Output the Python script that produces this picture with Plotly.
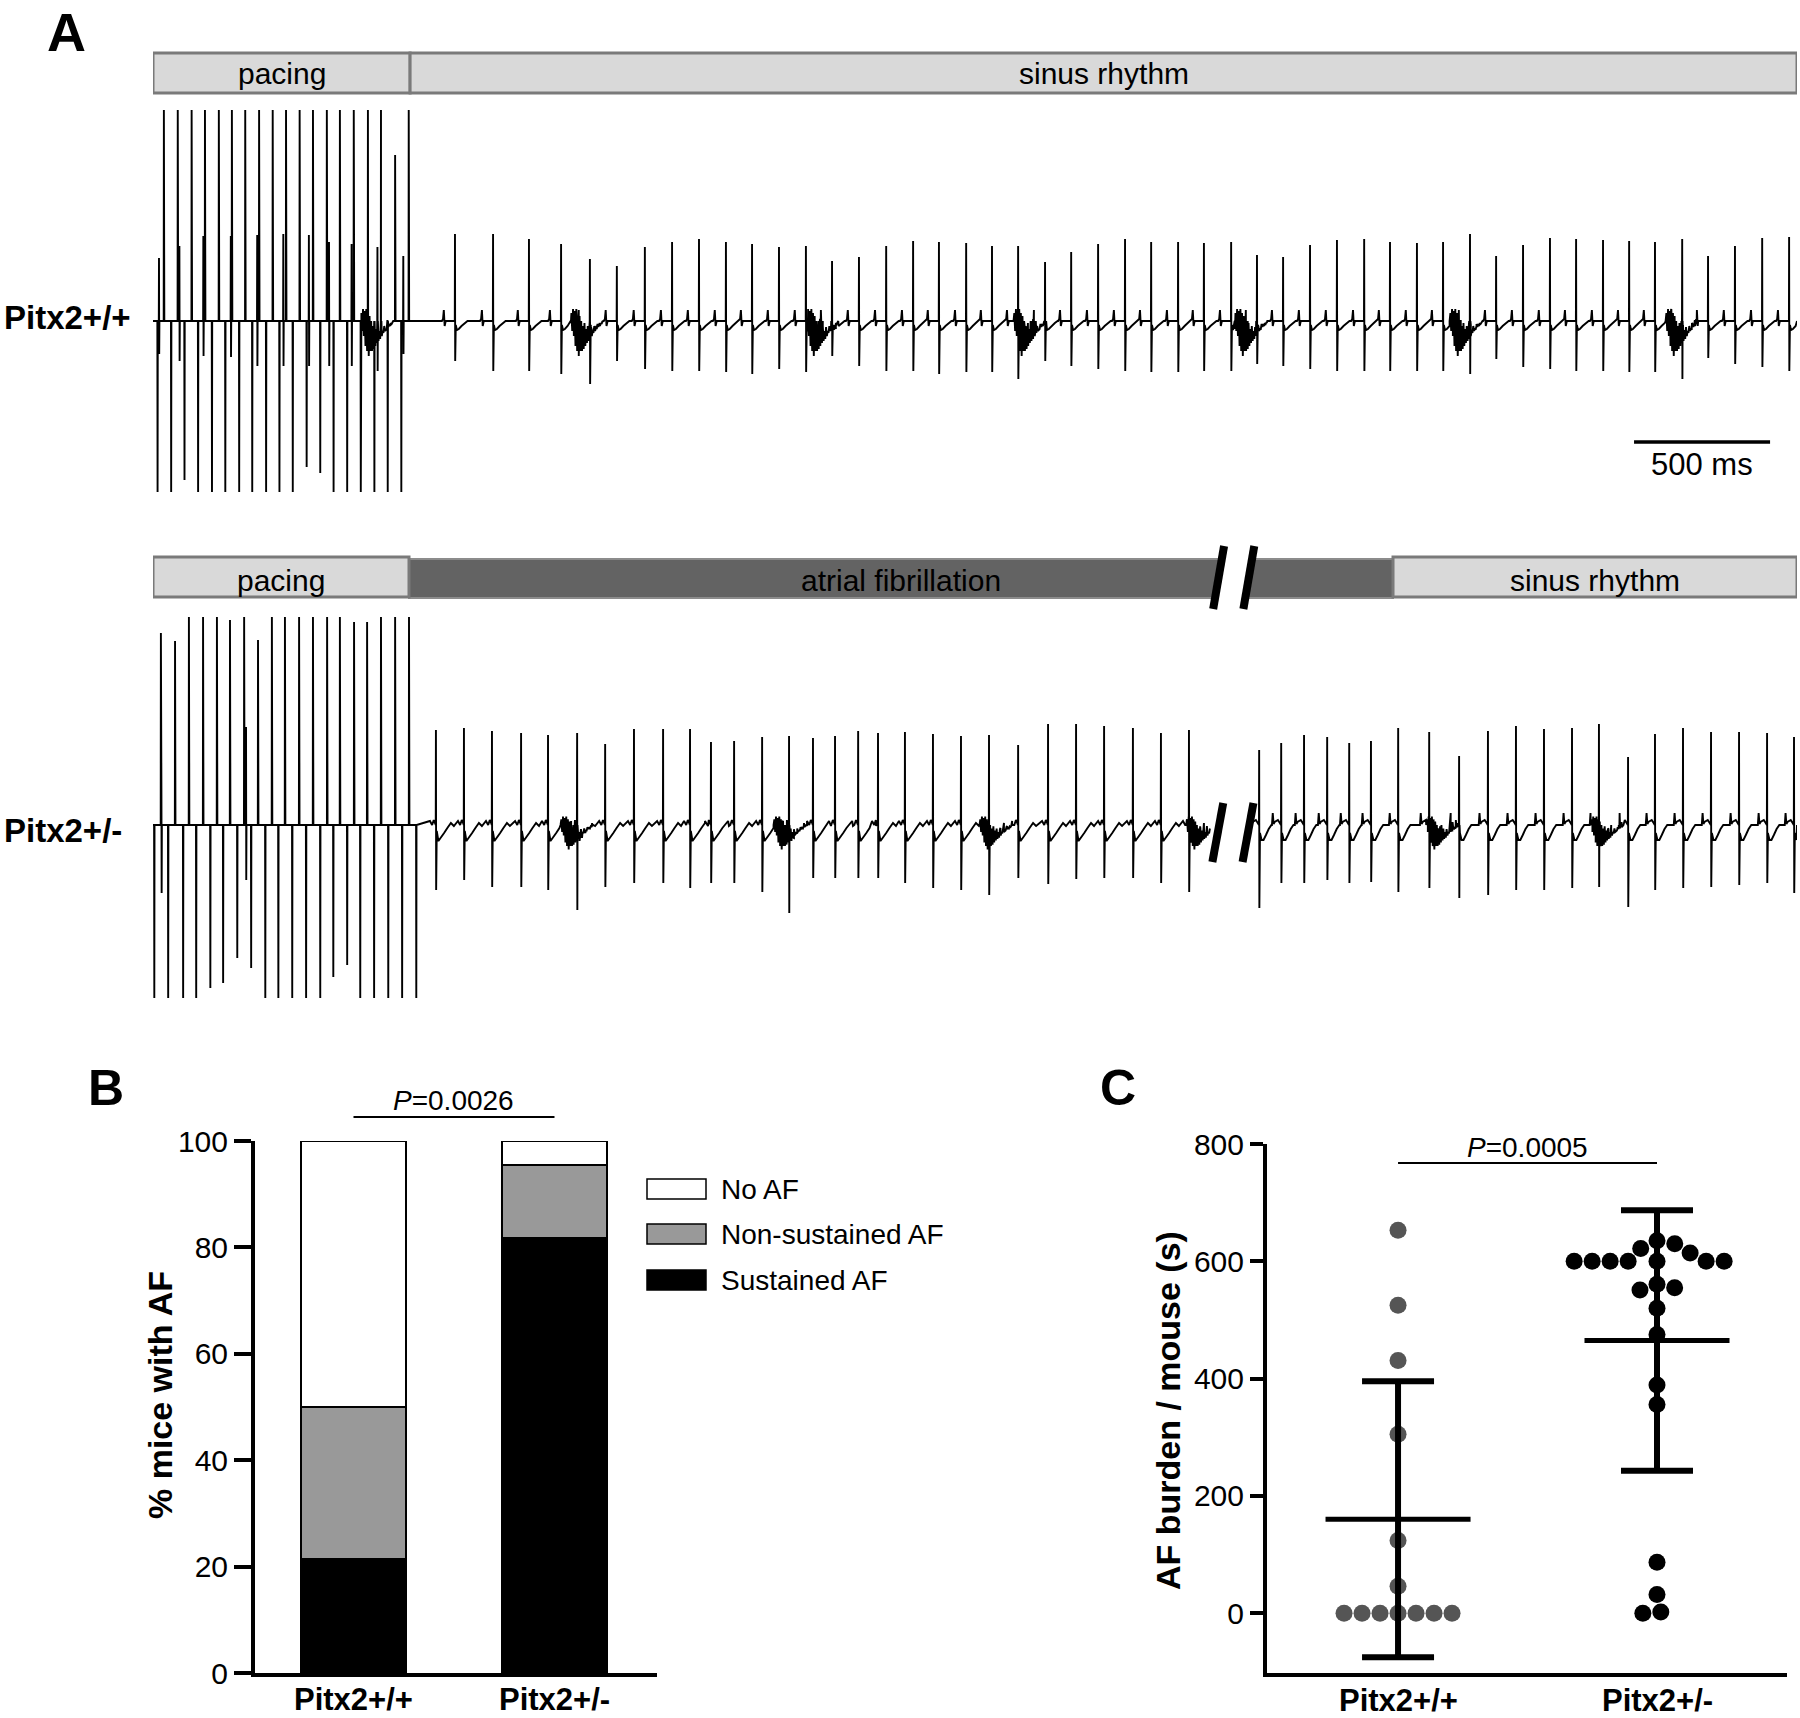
import plotly.graph_objects as go

W, H = 1800, 1718
FONT = "Liberation Sans, Arial, Helvetica, sans-serif"

# ====================== DATA ======================
# ---- Panel A: ECG recordings (time in ms, amplitude in arbitrary units) ----
RECORD_END_MS = 6043
SCALE_BAR_MS = 500
SCALE_BAR_START_MS = 5444

TOP_SEGMENT_NAMES = ["pacing", "sinus rhythm"]
TOP_SEGMENT_START_MS = [0, 945]
TOP_SEGMENT_END_MS = [945, 6043]

BOT_SEGMENT_NAMES = ["pacing", "atrial fibrillation", "sinus rhythm"]
BOT_SEGMENT_START_MS = [0, 941, 4558]
BOT_SEGMENT_END_MS = [941, 4558, 6043]

BREAK_START_MS = 3897
BREAK_END_MS = 4048

# Pitx2+/+ recording
WT_PACE_UP_MS = [40, 91, 142, 191, 242, 290, 339, 390, 440, 489, 539, 588, 639, 687, 738, 790, 838, 890, 940]
WT_PACE_UP_AMP = [2.11, 2.11, 2.11, 2.11, 2.11, 2.11, 2.11, 2.11, 2.11, 2.11, 2.11, 2.11, 2.11, 2.11, 2.11, 2.11, 2.11, 1.66, 2.11]
WT_PACE_DOWN_MS = [16, 66, 115, 165, 216, 265, 316, 364, 415, 464, 513, 564, 614, 663, 713, 763, 813, 862, 912]
WT_PACE_DOWN_AMP = [1.71, 1.71, 1.59, 1.71, 1.71, 1.71, 1.71, 1.71, 1.71, 1.71, 1.71, 1.46, 1.52, 1.71, 1.71, 1.71, 1.71, 1.71, 1.71]
WT_CAPTURE_MS = [22, 97, 185, 286, 383, 479, 573, 647, 730, 825, 920]
WT_CAPTURE_UP = [0.63, 0.75, 0.85, 0.85, 0.86, 0.87, 0.86, 0.79, 0.77, 0.74, 0.65]
WT_CAPTURE_DOWN = [0.33, 0.40, 0.35, 0.36, 0.45, 0.45, 0.45, 0.45, 0.45, 0.50, 0.33]
WT_BEAT_MS = [1110, 1250, 1382, 1500, 1606, 1705, 1808, 1908, 2007, 2106, 2202, 2301, 2400, 2496, 2595,
              2695, 2794, 2889, 2989, 3084, 3180, 3279, 3375, 3474, 3573, 3669, 3768, 3863, 3963, 4058,
              4154, 4253, 4352, 4452, 4547, 4646, 4742, 4841, 4937, 5036, 5135, 5231, 5330, 5426, 5521,
              5621, 5716, 5815, 5915, 6014]
WT_BEAT_UP = [0.87, 0.87, 0.82, 0.77, 0.62, 0.55, 0.74, 0.79, 0.82, 0.79, 0.77, 0.74, 0.75, 0.60, 0.64,
              0.75, 0.80, 0.79, 0.78, 0.75, 0.75, 0.59, 0.69, 0.77, 0.82, 0.79, 0.79, 0.78, 0.79, 0.66,
              0.64, 0.76, 0.81, 0.82, 0.79, 0.78, 0.79, 0.87, 0.65, 0.76, 0.83, 0.82, 0.81, 0.80, 0.79,
              0.82, 0.65, 0.75, 0.83, 0.84]
WT_BEAT_DOWN = [0.40, 0.50, 0.50, 0.53, 0.63, 0.40, 0.48, 0.50, 0.50, 0.51, 0.53, 0.48, 0.51, 0.35, 0.45,
                0.50, 0.50, 0.53, 0.51, 0.51, 0.58, 0.40, 0.45, 0.48, 0.50, 0.51, 0.51, 0.50, 0.50, 0.43,
                0.45, 0.48, 0.50, 0.50, 0.50, 0.50, 0.50, 0.53, 0.38, 0.46, 0.48, 0.50, 0.50, 0.51, 0.51,
                0.58, 0.37, 0.43, 0.46, 0.50]
WT_BURST_MS = [820, 1592, 2456, 3220, 4033, 4823, 5617]

# Pitx2+/- recording
HET_PACE_UP_MS = [29, 81, 132, 184, 235, 283, 335, 386, 437, 485, 537, 588, 640, 687, 739, 787, 838, 890, 941]
HET_PACE_UP_AMP = [1.92, 1.84, 2.08, 2.08, 2.08, 2.05, 2.08, 1.85, 2.08, 2.08, 2.08, 2.08, 2.08, 2.08, 2.03, 2.03, 2.08, 2.08, 2.08]
HET_PACE_DOWN_MS = [4, 55, 110, 158, 210, 257, 309, 360, 412, 460, 511, 562, 614, 662, 713, 761, 812, 864, 915, 967]
HET_PACE_DOWN_AMP = [1.73, 1.73, 1.73, 1.73, 1.63, 1.58, 1.33, 1.43, 1.73, 1.73, 1.73, 1.73, 1.73, 1.52, 1.40, 1.73, 1.73, 1.73, 1.73, 1.73]
HET_CAPTURE_MS = [31, 342]
HET_CAPTURE_UP = [0.30, 0.98]
HET_CAPTURE_DOWN = [0.68, 0.55]
HET_AF_BEAT_MS = [1040, 1143, 1246, 1353, 1452, 1559, 1662, 1768, 1875, 1974, 2051, 2136, 2239, 2338, 2426,
                  2507, 2592, 2665, 2764, 2867, 2970, 3073, 3180, 3290, 3393, 3496, 3602, 3705, 3808]
HET_AF_BEAT_UP = [0.95, 0.97, 0.94, 0.92, 0.90, 0.92, 0.81, 0.96, 0.96, 0.96, 0.83, 0.84, 0.88, 0.89, 0.87,
                  0.89, 0.94, 0.92, 0.93, 0.91, 0.89, 0.90, 0.80, 1.01, 1.01, 0.99, 0.97, 0.92, 0.95]
HET_AF_BEAT_DOWN = [0.65, 0.55, 0.62, 0.62, 0.65, 0.85, 0.62, 0.58, 0.58, 0.63, 0.58, 0.58, 0.67, 0.88, 0.53,
                    0.53, 0.53, 0.53, 0.58, 0.63, 0.65, 0.70, 0.53, 0.59, 0.54, 0.53, 0.53, 0.58, 0.67]
HET_SR_BEAT_MS = [4066, 4147, 4231, 4316, 4397, 4477, 4577, 4691, 4801, 4907, 5010, 5113, 5216, 5315, 5422,
                  5521, 5624, 5727, 5830, 5933, 6032]
HET_SR_BEAT_UP = [0.75, 0.82, 0.90, 0.88, 0.82, 0.84, 0.97, 0.93, 0.69, 0.94, 0.99, 0.96, 0.97, 1.01, 0.68,
                  0.91, 0.97, 0.93, 0.93, 0.92, 0.88]
HET_SR_BEAT_DOWN = [0.83, 0.58, 0.58, 0.55, 0.58, 0.57, 0.67, 0.63, 0.73, 0.70, 0.65, 0.65, 0.63, 0.62, 0.82,
                    0.65, 0.63, 0.62, 0.60, 0.58, 0.68]
HET_BURST_MS = [1555, 2338, 3095, 3855, 4737, 5342]

# ---- Panel B: % mice with AF ----
GENOTYPES = ["Pitx2+/+", "Pitx2+/-"]
SUSTAINED_AF = [21.4, 81.8]
NON_SUSTAINED_AF = [28.6, 13.6]
NO_AF = [50.0, 4.6]
P_VALUE_B = "0.0026"

# ---- Panel C: AF burden / mouse (s) ----
WT_BURDEN = [653, 525, 431, 305, 124, 46, 0, 0, 0, 0, 0, 0, 0]
HET_BURDEN = [635, 630, 622, 614, 600, 600, 600, 600, 600, 600, 600, 561, 555, 551, 520, 475, 389, 356, 87, 32, 2, 0]
P_VALUE_C = "0.0005"

# ====================== STYLE TEMPLATES ======================
# wave templates (offset ms, amplitude) drawn around each beat
WT_WAVE_DT = [-48, -44, -41, -38, -34, -3, 3, 7, 14, 24, 36, 46]
WT_WAVE_V = [0.0, 0.02, 0.11, -0.05, 0.0, 0.0, -0.04, -0.09, -0.08, -0.05, -0.02, 0.0]
AF_WAVE_DT = [-22, -14, -8, -3, 3, 9, 18, 30, 42, 55, 66]
AF_WAVE_V = [0.04, 0.0, 0.05, 0.02, -0.06, -0.16, -0.13, -0.08, -0.03, 0.02, -0.01]
SR_WAVE_DT = [-34, -31, -28, -24, -12, -5, 3, 9, 16, 25, 35, 45]
SR_WAVE_V = [0.0, 0.12, 0.01, 0.03, 0.05, 0.02, -0.08, -0.15, -0.15, -0.10, -0.04, 0.0]
BURST_DT = [-57, -54, -51, -48, -45, -42, -39, -36, -33, -30, -27, -24, -21, -18, -15, -12, -9, -6, -3, 0,
            3, 6, 9, 12, 15, 18, 21, 24, 27, 30, 33, 36, 39, 42, 45, 48, 51, 54, 57, 60, 63]
BURST_V = [0.0, 0.08, -0.10, 0.12, -0.15, 0.10, -0.25, 0.12, -0.30, 0.08, -0.35, 0.05, -0.30, 0.0, -0.30,
           -0.05, -0.28, -0.02, -0.25, -0.08, -0.22, -0.05, -0.20, -0.10, -0.18, -0.06, -0.15, -0.10, -0.12,
           -0.05, -0.10, -0.08, -0.08, -0.03, -0.06, -0.04, -0.05, -0.02, -0.03, -0.01, 0.0]


def py(px):
    return 1 - px / H


def pxx(px):
    return px / W


def spikes(times, ups, downs):
    pts = []
    for t, u, d in zip(times, ups, downs):
        pts += [(t - 0.7, 0.0), (t, u), (t + 0.8, -d), (t + 1.6, 0.0)]
    return pts


def waves(times, dts, vs, scale=1.0):
    pts = []
    for t in times:
        pts += [(t + dt, v * scale) for dt, v in zip(dts, vs)]
    return pts


def assemble(*lists):
    return sorted([p for lst in lists for p in lst], key=lambda p: p[0])


fig = go.Figure()

# --- Top trace (Pitx2+/+) ---
top_pts = assemble(
    [(0, 0.0), (RECORD_END_MS, 0.0)],
    spikes(WT_PACE_UP_MS, WT_PACE_UP_AMP, [0.0] * len(WT_PACE_UP_MS)),
    spikes(WT_PACE_DOWN_MS, [0.0] * len(WT_PACE_DOWN_MS), WT_PACE_DOWN_AMP),
    spikes(WT_CAPTURE_MS, WT_CAPTURE_UP, WT_CAPTURE_DOWN),
    spikes(WT_BEAT_MS, WT_BEAT_UP, WT_BEAT_DOWN),
    waves(WT_BEAT_MS, WT_WAVE_DT, WT_WAVE_V),
    waves(WT_BURST_MS, BURST_DT, BURST_V),
)
top_pts = [p for p in top_pts if 0 <= p[0] <= RECORD_END_MS]
fig.add_trace(go.Scatter(x=[p[0] for p in top_pts], y=[p[1] for p in top_pts], mode="lines",
                         line=dict(color="black", width=1.9), xaxis="x", yaxis="y", hoverinfo="skip"))

# --- Bottom trace (Pitx2+/-) ---
bot_pts = assemble(
    [(0, 0.0), (RECORD_END_MS, 0.0)],
    spikes(HET_PACE_UP_MS, HET_PACE_UP_AMP, [0.0] * len(HET_PACE_UP_MS)),
    spikes(HET_PACE_DOWN_MS, [0.0] * len(HET_PACE_DOWN_MS), HET_PACE_DOWN_AMP),
    spikes(HET_CAPTURE_MS, HET_CAPTURE_UP, HET_CAPTURE_DOWN),
    spikes(HET_AF_BEAT_MS, HET_AF_BEAT_UP, HET_AF_BEAT_DOWN),
    waves(HET_AF_BEAT_MS, AF_WAVE_DT, AF_WAVE_V),
    spikes(HET_SR_BEAT_MS, HET_SR_BEAT_UP, HET_SR_BEAT_DOWN),
    waves(HET_SR_BEAT_MS, SR_WAVE_DT, SR_WAVE_V),
    waves(HET_BURST_MS, BURST_DT, BURST_V, 0.7),
)
seg1 = [p for p in bot_pts if 0 <= p[0] <= BREAK_START_MS - 10]
seg2 = [p for p in bot_pts if BREAK_END_MS - 25 <= p[0] <= RECORD_END_MS]
bx = [p[0] for p in seg1] + [None] + [p[0] for p in seg2]
by = [p[1] for p in seg1] + [None] + [p[1] for p in seg2]
fig.add_trace(go.Scatter(x=bx, y=by, mode="lines", line=dict(color="black", width=1.9),
                         xaxis="x2", yaxis="y2", hoverinfo="skip", connectgaps=False))

# --- Panel B stacked bars ---
BAR_W = 0.527
for vals, col in [(SUSTAINED_AF, "black"), (NON_SUSTAINED_AF, "#999999"), (NO_AF, "white")]:
    fig.add_trace(go.Bar(x=[0, 1], y=vals, width=BAR_W, marker=dict(color=col, line=dict(color="black", width=2)),
                         xaxis="x3", yaxis="y3", hoverinfo="skip"))

# --- Panel C scatter ---
C_PX_PER_X = 259.0
C_PX_PER_Y = 529.0 / 902.0
DOT_D = 18.0


def swarm(values, center):
    placed, xs = [], []
    for v in values:
        y = v * C_PX_PER_Y
        cands = [0.0]
        for xo, yo in placed:
            dy = y - yo
            if abs(dy) < DOT_D:
                dx = (DOT_D ** 2 - dy ** 2) ** 0.5
                cands += [xo + dx, xo - dx]
        cands = sorted(set(cands), key=lambda c: (abs(c), -c))
        chosen = cands[-1]
        for c in cands:
            if all((c - xo) ** 2 + (y - yo) ** 2 >= DOT_D ** 2 - 1e-6 for xo, yo in placed):
                chosen = c
                break
        placed.append((chosen, y))
        xs.append(center + chosen / C_PX_PER_X)
    return xs


def mean_sd(vals):
    m = sum(vals) / len(vals)
    sd = (sum((v - m) ** 2 for v in vals) / (len(vals) - 1)) ** 0.5
    return m, sd


for gi, (vals, col) in enumerate([(WT_BURDEN, "#555555"), (HET_BURDEN, "black")]):
    fig.add_trace(go.Scatter(x=swarm(vals, gi), y=vals, mode="markers",
                             marker=dict(size=17, color=col, line=dict(width=0)),
                             xaxis="x4", yaxis="y4", hoverinfo="skip"))
for gi, vals in enumerate([WT_BURDEN, HET_BURDEN]):
    m, sd = mean_sd(vals)
    fig.add_trace(go.Scatter(x=[gi], y=[m], mode="markers", marker=dict(size=1, color="black"),
                             error_y=dict(type="data", array=[sd], visible=True, color="black",
                                          thickness=6, width=36),
                             xaxis="x4", yaxis="y4", hoverinfo="skip"))
    fig.add_trace(go.Scatter(x=[gi - 0.28, gi + 0.28], y=[m, m], mode="lines",
                             line=dict(color="black", width=5), xaxis="x4", yaxis="y4", hoverinfo="skip"))

# ====================== LAYOUT ======================
shapes, ann = [], []
TRACE_DOM = [pxx(153), pxx(1797)]
TOP_BASE, BOT_BASE = 321, 825
light, dark = "#d9d9d9", "#636363"

# top state bar
for s, e in zip(TOP_SEGMENT_START_MS, TOP_SEGMENT_END_MS):
    shapes.append(dict(type="rect", xref="x", yref="paper", x0=s, x1=e, y0=py(93), y1=py(53),
                       fillcolor=light, line=dict(color="#7a7a7a", width=3), layer="above"))
for name, s, e in zip(TOP_SEGMENT_NAMES, TOP_SEGMENT_START_MS, TOP_SEGMENT_END_MS):
    ann.append(dict(text=name, xref="x", yref="paper", x=(s + e) / 2, y=py(73), showarrow=False,
                    font=dict(size=30, color="black"), xanchor="center", yanchor="middle"))

# bottom state bar
for name, s, e in zip(BOT_SEGMENT_NAMES, BOT_SEGMENT_START_MS, BOT_SEGMENT_END_MS):
    if name == "atrial fibrillation":
        shapes.append(dict(type="rect", xref="x2", yref="paper", x0=s, x1=e, y0=py(598), y1=py(559),
                           fillcolor=dark, line=dict(color="#8c8c8c", width=2), layer="above"))
for name, s, e in zip(BOT_SEGMENT_NAMES, BOT_SEGMENT_START_MS, BOT_SEGMENT_END_MS):
    if name != "atrial fibrillation":
        shapes.append(dict(type="rect", xref="x2", yref="paper", x0=s, x1=e, y0=py(597), y1=py(557),
                           fillcolor=light, line=dict(color="#7a7a7a", width=3), layer="above"))
    ann.append(dict(text=name, xref="x2", yref="paper", x=(s + e) / 2, y=py(580), showarrow=False,
                    font=dict(size=30, color="black"), xanchor="center", yanchor="middle"))

# break marks
SLANT = 40
shapes.append(dict(type="path", xref="x2", yref="paper", layer="above",
                   path=f"M {BREAK_START_MS + SLANT},{py(546)} L {BREAK_END_MS},{py(546)} "
                        f"L {BREAK_END_MS - SLANT},{py(609)} L {BREAK_START_MS},{py(609)} Z",
                   fillcolor="white", line=dict(width=0)))
for (x0, x1) in [(BREAK_START_MS + SLANT, BREAK_START_MS), (BREAK_END_MS, BREAK_END_MS - SLANT)]:
    shapes.append(dict(type="line", xref="x2", yref="paper", x0=x0, x1=x1, y0=py(546), y1=py(609),
                       line=dict(color="black", width=8), layer="above"))
    shapes.append(dict(type="line", xref="x2", yref="paper", x0=x0 - 3, x1=x1 - 3, y0=py(803), y1=py(862),
                       line=dict(color="black", width=8), layer="above"))

# scale bar
shapes.append(dict(type="line", xref="x", yref="paper", x0=SCALE_BAR_START_MS,
                   x1=SCALE_BAR_START_MS + SCALE_BAR_MS, y0=py(442), y1=py(442),
                   line=dict(color="black", width=3.5)))
ann.append(dict(text=f"{SCALE_BAR_MS} ms", xref="x", yref="paper", x=SCALE_BAR_START_MS + SCALE_BAR_MS / 2,
                y=py(464), showarrow=False, font=dict(size=31, color="black"), xanchor="center", yanchor="middle"))

# row labels & panel letters
ann.append(dict(text="<b>Pitx2+/+</b>", xref="paper", yref="paper", x=pxx(2), y=py(318), showarrow=False,
                font=dict(size=33, color="black"), xanchor="left", yanchor="middle"))
ann.append(dict(text="<b>Pitx2+/-</b>", xref="paper", yref="paper", x=pxx(2), y=py(831), showarrow=False,
                font=dict(size=33, color="black"), xanchor="left", yanchor="middle"))
ann.append(dict(text="<b>A</b>", xref="paper", yref="paper", x=pxx(66), y=1.0, showarrow=False,
                font=dict(size=54, color="black"), xanchor="center", yanchor="top"))
for letter, x, y, s in [("B", 106, 1088, 50), ("C", 1118, 1088, 50)]:
    ann.append(dict(text=f"<b>{letter}</b>", xref="paper", yref="paper", x=pxx(x), y=py(y), showarrow=False,
                    font=dict(size=s, color="black"), xanchor="center", yanchor="middle"))

# Panel B extras
ann.append(dict(text="<b>% mice with AF</b>", xref="paper", yref="paper", x=pxx(160), y=py(1395),
                textangle=-90, showarrow=False, font=dict(size=34, color="black"),
                xanchor="center", yanchor="middle"))
for i, g in enumerate(GENOTYPES):
    ann.append(dict(text=f"<b>{g}</b>", xref="x3", yref="paper", x=i, y=py(1699), showarrow=False,
                    font=dict(size=31, color="black"), xanchor="center", yanchor="middle"))
shapes.append(dict(type="line", xref="x3", yref="paper", x0=0, x1=1, y0=py(1117), y1=py(1117),
                   line=dict(color="black", width=2)))
ann.append(dict(text=f"<i>P</i>={P_VALUE_B}", xref="x3", yref="paper", x=0.5, y=py(1100), showarrow=False,
                font=dict(size=28, color="black"), xanchor="center", yanchor="middle"))
LEG_NAMES = ["No AF", "Non-sustained AF", "Sustained AF"]
LEG_COLORS = ["white", "#999999", "black"]
for i, (nm, colr) in enumerate(zip(LEG_NAMES, LEG_COLORS)):
    yc = [1189, 1234, 1280][i]
    shapes.append(dict(type="rect", xref="paper", yref="paper", x0=pxx(647), x1=pxx(706),
                       y0=py(yc + 10), y1=py(yc - 10), fillcolor=colr, line=dict(color="black", width=1.5)))
    ann.append(dict(text=nm, xref="paper", yref="paper", x=pxx(719), y=py(yc), showarrow=False,
                    font=dict(size=28, color="black"), xanchor="left", yanchor="middle"))

# Panel C extras
ann.append(dict(text="<b>AF burden / mouse (s)</b>", xref="paper", yref="paper", x=pxx(1168), y=py(1411),
                textangle=-90, showarrow=False, font=dict(size=34, color="black"),
                xanchor="center", yanchor="middle"))
for i, g in enumerate(GENOTYPES):
    ann.append(dict(text=f"<b>{g}</b>", xref="x4", yref="paper", x=i, y=py(1700), showarrow=False,
                    font=dict(size=31, color="black"), xanchor="center", yanchor="middle"))
shapes.append(dict(type="line", xref="x4", yref="paper", x0=0, x1=1, y0=py(1163), y1=py(1163),
                   line=dict(color="black", width=2)))
ann.append(dict(text=f"<i>P</i>={P_VALUE_C}", xref="x4", yref="paper", x=0.5, y=py(1147), showarrow=False,
                font=dict(size=28, color="black"), xanchor="center", yanchor="middle"))

hidden = dict(visible=False, showgrid=False, zeroline=False)
axis_common = dict(showline=True, linecolor="black", linewidth=4, showgrid=False, zeroline=False)

fig.update_layout(
    width=W, height=H, margin=dict(l=0, r=0, t=0, b=0),
    template="none", paper_bgcolor="white", plot_bgcolor="rgba(0,0,0,0)",
    font=dict(family=FONT, color="black"), showlegend=False, barmode="stack",
    shapes=shapes, annotations=ann,
    xaxis=dict(domain=TRACE_DOM, range=[0, RECORD_END_MS], anchor="y", **hidden),
    yaxis=dict(domain=[py(520), py(100)], range=[(TOP_BASE - 520) / 100, (TOP_BASE - 100) / 100],
               anchor="x", **hidden),
    xaxis2=dict(domain=TRACE_DOM, range=[0, RECORD_END_MS], anchor="y2", **hidden),
    yaxis2=dict(domain=[py(1010), py(600)], range=[(BOT_BASE - 1010) / 100, (BOT_BASE - 600) / 100],
                anchor="x2", **hidden),
    xaxis3=dict(domain=[pxx(255), pxx(657)], range=[-0.49, 1.51], anchor="y3", ticks="",
                showticklabels=False, **axis_common),
    yaxis3=dict(domain=[py(1673), py(1141)], range=[0, 100], anchor="x3", ticks="outside", ticklen=17,
                tickwidth=3.5, tickcolor="black", tickvals=[0, 20, 40, 60, 80, 100],
                tickfont=dict(size=30, color="black"), **axis_common),
    xaxis4=dict(domain=[pxx(1267), pxx(1787)], range=[-0.506, 1.502], anchor="y4", ticks="",
                showticklabels=False, **axis_common),
    yaxis4=dict(domain=[py(1673), py(1144)], range=[-102, 800], anchor="x4", ticks="outside", ticklen=13,
                tickwidth=3.5, tickcolor="black", tickvals=[0, 200, 400, 600, 800],
                tickfont=dict(size=30, color="black"), **axis_common),
)

fig.write_html("out.html", config={"displayModeBar": False},
               post_script="document.body.style.margin='0px';document.body.style.overflow='hidden';")
